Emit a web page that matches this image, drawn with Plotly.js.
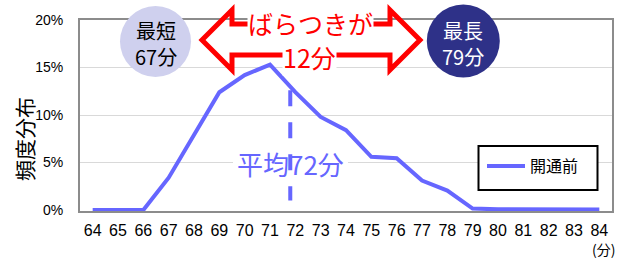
<!DOCTYPE html>
<html>
<head>
<meta charset="utf-8">
<script src="https://cdn.plot.ly/plotly-3.0.1.min.js"></script>
<style>html,body{margin:0;padding:0;background:#fff;}#chart{width:627px;height:259px;}</style>
</head>
<body>
<div id="chart"></div>
<script>
// ---- data ----
const minutes = [64,65,66,67,68,69,70,71,72,73,74,75,76,77,78,79,80,81,82,83,84];
const shareBefore = [0,0,0,3.4,8.0,12.4,14.2,15.3,12.4,9.8,8.4,5.6,5.45,3.1,2.05,0.15,0.08,0.05,0.05,0.05,0.05];
const seriesName = "開通前";
const meanX = [71.8, 71.8];
const meanY = [12.6, 1.0];
const yTicks = [0,5,10,15,20];
const yTickText = ["0%","5%","10%","15%","20%"];
const minLabel = "最短<br>67分";
const maxLabel = "最長<br>79分";
const spreadTop = "ばらつきが";
const spreadBottom = "12分";
const meanLabel = "平均72分";
const yTitle = "頻度分布";
const unitLabel = "(分)";

// ---- layout helpers (pixel -> paper) ----
const W = 627, H = 259;
const M = {l:80, r:15, t:20, b:48};
const PW = W - M.l - M.r, PH = H - M.t - M.b;
const px = x => (x - M.l) / PW;
const py = y => (H - M.b - y) / PH;
const CJK = '"Noto Sans CJK JP", "Noto Sans", sans-serif';
const LAT = '"Liberation Sans", Arial, sans-serif';
const BLUE = '#6666FF';

function circle(cx, cy, r, color){
  return {type:'circle', xref:'paper', yref:'paper', x0:px(cx-r), x1:px(cx+r), y0:py(cy+r), y1:py(cy-r),
    fillcolor:color, line:{width:0}, layer:'above'};
}
const arrowPts = [[202,40],[232,10],[232,24],[390,24],[390,10],[420,40],[390,70],[390,55],[232,55],[232,70]];
const arrowPath = 'M' + arrowPts.map(p => px(p[0]).toFixed(5)+','+py(p[1]).toFixed(5)).join(' L') + ' Z';

const xRange = [63.5, 84.5], yRange = [-0.1, 20];
const dx = x => xRange[0] + (x - M.l) / PW * (xRange[1]-xRange[0]);
const dy = y => yRange[0] + (H - M.b - y) / PH * (yRange[1]-yRange[0]);

const traces = [
  {x: minutes, y: shareBefore, type:'scatter', mode:'lines', name: seriesName,
   line:{color:BLUE, width:4}},
  {x: meanX, y: meanY, type:'scatter', mode:'lines', showlegend:false, hoverinfo:'skip',
   line:{color:BLUE, width:4, dash:'16px,16px'}}
];

const layout = {
  width: W, height: H, margin: M,
  paper_bgcolor:'#fff', plot_bgcolor:'#fff',
  showlegend: true,
  xaxis: {range:xRange, tickvals:minutes, ticktext:minutes.map(String), showgrid:false, zeroline:false,
    showline:true, linecolor:'#8c8c8c', linewidth:2, mirror:true, ticks:'', ticklabelstandoff:4,
    tickfont:{family:LAT, size:16, color:'#000'}},
  yaxis: {range:yRange, tickvals:yTicks, ticktext:yTickText, showgrid:true, gridcolor:'#d9d9d9', gridwidth:1,
    zeroline:false, showline:true, linecolor:'#8c8c8c', linewidth:2, mirror:true, ticks:'', ticklabelstandoff:12,
    tickfont:{family:LAT, size:14, color:'#000'}},
  legend: {x:px(482), y:py(149), xanchor:'left', yanchor:'top', bgcolor:'rgba(0,0,0,0)', borderwidth:0,
    itemwidth:38, font:{family:CJK, size:16, color:'#000'}},
  shapes: [
    {type:'rect', xref:'x', yref:'y', x0:dx(233), x1:dx(348), y0:dy(177), y1:dy(150), fillcolor:'#fff', line:{width:0}, layer:'between'},
    {type:'rect', xref:'paper', yref:'paper', x0:px(478.5), x1:px(597.5), y0:py(190), y1:py(146), fillcolor:'#fff', line:{color:'#000', width:2}, layer:'above'},
    circle(155.5, 41.5, 35.5, '#CFD0EE'),
    circle(463.3, 41, 36.5, '#2E3188'),
    {type:'path', xref:'paper', yref:'paper', path: arrowPath, line:{color:'#FF0000', width:5}, fillcolor:'rgba(0,0,0,0)', layer:'above'}
  ],
  annotations: [
    {text:minLabel, xref:'paper', yref:'paper', x:px(155.5), y:py(43.5), xanchor:'center', yanchor:'middle', showarrow:false,
     font:{family:CJK, size:20, color:'#000'}},
    {text:maxLabel, xref:'paper', yref:'paper', x:px(463.3), y:py(43.5), xanchor:'center', yanchor:'middle', showarrow:false,
     font:{family:CJK, size:20, color:'#fff'}},
    {text:spreadTop, xref:'paper', yref:'paper', x:px(310), y:py(23), xanchor:'center', yanchor:'middle', showarrow:false,
     bgcolor:'#fff', borderpad:0, font:{family:CJK, size:25, color:'#FF0000'}},
    {text:spreadBottom, xref:'paper', yref:'paper', x:px(309), y:py(57), xanchor:'center', yanchor:'middle', showarrow:false,
     bgcolor:'#fff', borderpad:0, font:{family:CJK, size:25, color:'#FF0000'}},
    {text:meanLabel, xref:'paper', yref:'paper', x:px(290.5), y:py(163.5), xanchor:'center', yanchor:'middle', showarrow:false,
     font:{family:CJK, size:26, color:BLUE}},
    {text:yTitle, xref:'paper', yref:'paper', x:px(24), y:py(139), xanchor:'center', yanchor:'middle', showarrow:false,
     textangle:-90, font:{family:CJK, size:21, color:'#000'}},
    {text:unitLabel, xref:'paper', yref:'paper', x:px(603), y:py(248.5), xanchor:'center', yanchor:'middle', showarrow:false,
     borderpad:0, font:{family:CJK, size:14, color:'#000'}}
  ]
};

Plotly.newPlot('chart', traces, layout, {displayModeBar:false, staticPlot:true});
</script>
</body>
</html>
